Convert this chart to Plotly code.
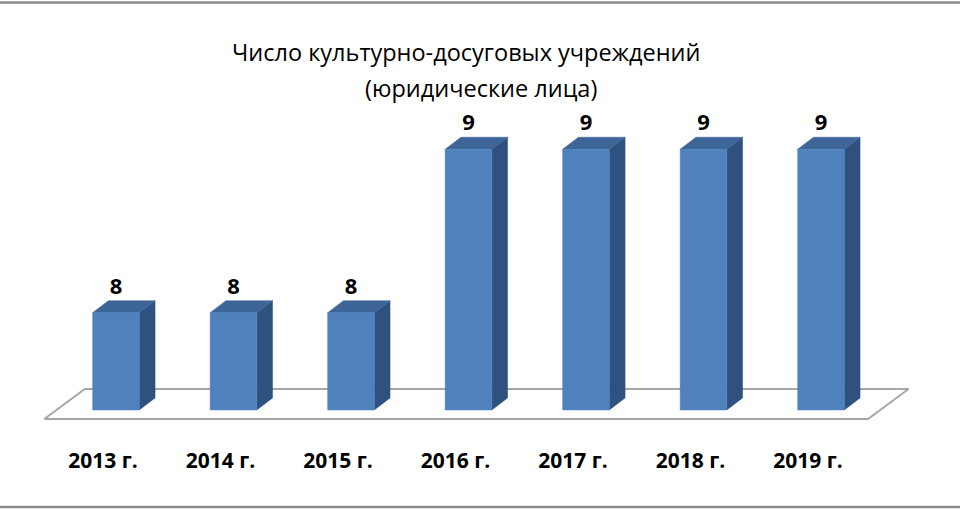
import plotly.graph_objects as go

# ---- data ----
categories = ["2013 г.", "2014 г.", "2015 г.", "2016 г.", "2017 г.", "2018 г.", "2019 г."]
values = [8, 8, 8, 9, 9, 9, 9]
title_lines = ["Число культурно-досуговых учреждений", "(юридические лица)"]

# ---- style / geometry (in axis units) ----
FLOOR = 7.405      # value axis minimum (bar base)
BAR_W = 0.397      # front face width in category units
DX, DY = 0.134, 0.0734   # 3D depth offset of a bar
FRONT = "#4F81BD"
TOP = "#3D6598"
SIDE = "#2F5180"
FONT = "Open Sans"

n = len(values)
xs = list(range(n))

fig = go.Figure()

# floor (parallelogram under the bars)
fx0, fx1 = -0.5 - 0.11, n - 0.5 - 0.10
fdx = 0.345
fy_front, fy_back = FLOOR - 0.055, FLOOR + 0.128
fig.add_trace(go.Scatter(
    x=[fx0, fx1, fx1 + fdx, fx0 + fdx, fx0],
    y=[fy_front, fy_front, fy_back, fy_back, fy_front],
    mode="lines", fill="toself", fillcolor="white",
    line=dict(color="#A6A6A6", width=2), hoverinfo="skip", showlegend=False))

side_x, side_y, top_x, top_y, front_x, front_y = [], [], [], [], [], []
for i, v in zip(xs, values):
    l, r = i - BAR_W / 2, i + BAR_W / 2
    side_x += [r, r + DX, r + DX, r, r, None]
    side_y += [FLOOR, FLOOR + DY, v + DY, v, FLOOR, None]
    top_x += [l, r, r + DX, l + DX, l, None]
    top_y += [v, v, v + DY, v + DY, v, None]
    front_x += [l, r, r, l, l, None]
    front_y += [FLOOR, FLOOR, v, v, FLOOR, None]

for px, py, col in [(side_x, side_y, SIDE), (top_x, top_y, TOP), (front_x, front_y, FRONT)]:
    fig.add_trace(go.Scatter(x=px, y=py, mode="lines", fill="toself", fillcolor=col,
                             line=dict(color=col, width=0.5), hoverinfo="skip",
                             showlegend=False))

# data labels
fig.add_trace(go.Scatter(
    x=xs, y=[v + 0.15 for v in values], mode="text",
    text=[str(v) for v in values], textposition="middle center",
    textfont=dict(family=FONT, size=22, color="black", weight="bold"),
    hoverinfo="skip", showlegend=False))

# category labels
fig.add_trace(go.Scatter(
    x=[i - 0.11 for i in xs], y=[7.081] * n, mode="text",
    text=categories, textposition="middle center",
    textfont=dict(family=FONT, size=21, color="black", weight="bold"),
    hoverinfo="skip", showlegend=False))

# title
fig.add_annotation(x=466 / 960, y=1 - 52 / 510, xref="paper", yref="paper",
                   text=title_lines[0], showarrow=False,
                   font=dict(family=FONT, size=23.5, color="black"),
                   xanchor="center", yanchor="middle")
fig.add_annotation(x=481 / 960, y=1 - 88 / 510, xref="paper", yref="paper",
                   text=title_lines[1], showarrow=False,
                   font=dict(family=FONT, size=23.5, color="black"),
                   xanchor="center", yanchor="middle")

# chart border lines (top and bottom)
for yy in [1 - 2.5 / 510, 1 - 507 / 510]:
    fig.add_shape(type="line", xref="paper", yref="paper", x0=0, x1=1, y0=yy, y1=yy,
                  line=dict(color="#8C8C8C", width=2.5))

fig.update_layout(
    width=960, height=510, margin=dict(l=0, r=0, t=0, b=0),
    paper_bgcolor="white", plot_bgcolor="white",
    xaxis=dict(range=[-0.987, 7.183], visible=False, fixedrange=True),
    yaxis=dict(range=[6.793, 9.913], visible=False, fixedrange=True),
    showlegend=False, hovermode=False,
)

fig.write_html(
    "out.html",
    config={"displayModeBar": False, "staticPlot": True},
    post_script=("document.body.style.margin='0';"
                 "document.body.style.overflow='hidden';"
                 "document.documentElement.style.overflow='hidden';"),
)
